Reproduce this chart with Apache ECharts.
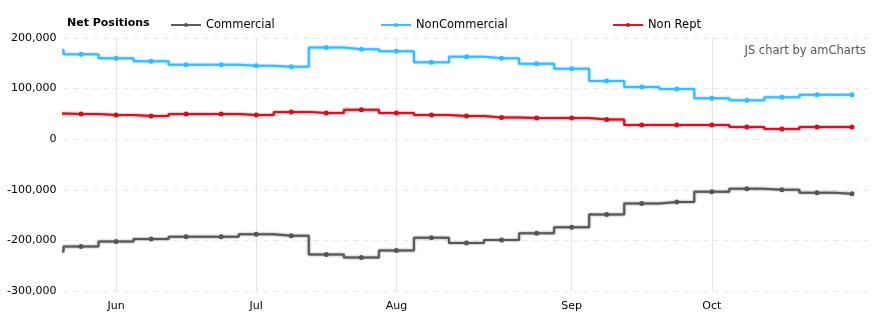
<!DOCTYPE html>
<html>
<head>
<meta charset="utf-8">
<script src="https://cdn.jsdelivr.net/npm/echarts@6/dist/echarts.min.js"></script>
<style>html,body{margin:0;padding:0;background:#fff}#c{width:883px;height:325px}</style>
</head>
<body>
<div id="c"></div>
<script>
// weekly report dates; the first one lies just before the visible window
const dates = ['2017-05-23','2017-05-30','2017-06-06','2017-06-13','2017-06-20','2017-06-27','2017-07-04','2017-07-11','2017-07-18','2017-07-25','2017-08-01','2017-08-08','2017-08-15','2017-08-22','2017-08-29','2017-09-05','2017-09-12','2017-09-19','2017-09-26','2017-10-03','2017-10-10','2017-10-17','2017-10-24','2017-10-31'];
const commercial = [-222000,-212000,-202000,-197000,-193000,-193000,-188000,-191000,-228000,-234000,-220000,-195000,-205000,-199000,-186000,-174000,-149000,-127000,-124000,-104000,-98000,-100000,-106000,-108000];
const nonCommercial = [176000,168000,160000,154000,147000,147000,145000,143000,181000,178000,174000,152000,163000,160000,149000,139000,115000,103000,99000,81000,77000,83000,88000,88000];
const nonRept = [51000,50000,48000,46000,50000,50000,48000,54000,52000,58000,52000,48000,46000,43000,42000,42000,39000,28000,28000,28000,24000,20000,24000,24000];
const monthNames = ['Jan','Feb','Mar','Apr','May','Jun','Jul','Aug','Sep','Oct','Nov','Dec'];
const yTicks = [-300000,-200000,-100000,0,100000,200000];

// x position index: first date is index -1
const pos = dates.map((d, i) => i - 1);
const monthStarts = [];
for (let i = 2; i < dates.length; i++) {
  if (dates[i].slice(5,7) !== dates[i-1].slice(5,7)) monthStarts.push(pos[i]);
}
function label(v) {
  const i = Math.round(v) + 1;
  if (i < 0 || i >= dates.length) return '';
  return monthNames[parseInt(dates[i].slice(5,7),10)-1];
}
const mk = arr => arr.map((v, i) => [pos[i], v]);

const FONT = 'DejaVu Sans';
const chart = echarts.init(document.getElementById('c'), null, {renderer:'canvas'});
function series(name, data, color, extra) {
  return Object.assign({
    name, type:'line', step:'middle', data: mk(data),
    symbol:'circle', symbolSize:5, showSymbol:true,
    itemStyle:{color},
    lineStyle:{color, width:2, shadowColor: color, shadowBlur:2, opacity:0.95},
    animation:false, clip:true
  }, extra || {});
}
const legendBase = {top:14, itemWidth:30, itemHeight:5, textStyle:{fontFamily:FONT,fontSize:11.5,color:'#000'}};
chart.setOption({
  backgroundColor:'#fff',
  textStyle:{fontFamily:FONT},
  title:{text:'Net Positions', left:62, top:13, textStyle:{fontFamily:FONT, fontSize:11, fontWeight:'bold', color:'#000'}},
  legend:[
    Object.assign({data:['Commercial'], left:165}, legendBase),
    Object.assign({data:['NonCommercial'], left:375}, legendBase),
    Object.assign({data:['Non Rept'], left:607}, legendBase)
  ],
  graphic:[{type:'text', right:17, top:45, style:{text:'JS chart by amCharts', font:'11.5px "DejaVu Sans"', fill:'#555'}}],
  grid:{left:63.5, right:13.5, top:38, bottom:34, containLabel:false},
  xAxis:{type:'value', min:-0.5, max:22.5,
    axisLine:{show:false}, axisTick:{show:false}, splitLine:{show:false},
    axisLabel:{customValues:monthStarts, formatter:label, color:'#000', fontSize:11, fontFamily:FONT, margin:10}
  },
  yAxis:{type:'value', min:yTicks[0], max:yTicks[yTicks.length-1], interval:100000,
    axisLine:{show:false}, axisTick:{show:false},
    splitLine:{lineStyle:{color:'#e8e8e8', type:[5,5]}},
    axisLabel:{color:'#000', fontSize:11, fontFamily:FONT, margin:7}
  },
  series:[
    series('Commercial', commercial, '#555555', {
      markLine:{silent:true, symbol:['none','none'], label:{show:false},
        lineStyle:{color:'#e3e3e3', width:1, type:'solid'},
        data: monthStarts.map(x => ({xAxis:x})), animation:false, z:0}
    }),
    series('NonCommercial', nonCommercial, '#33bbff'),
    series('Non Rept', nonRept, '#d0101e')
  ]
});
</script>
</body>
</html>
